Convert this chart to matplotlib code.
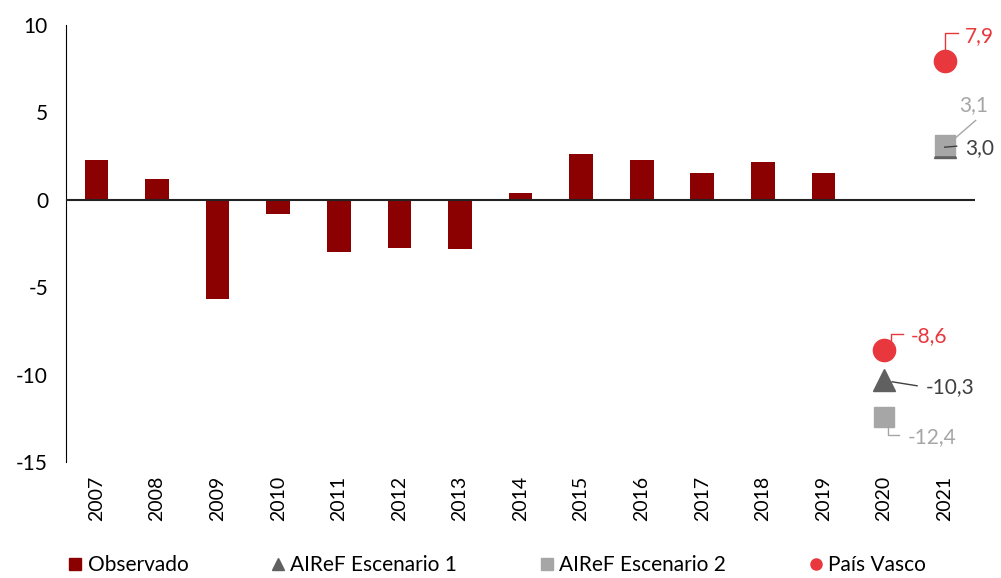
import matplotlib.pyplot as plt
import numpy as np
from matplotlib.lines import Line2D
from matplotlib.transforms import IdentityTransform

plt.rcParams['font.family'] = ['Lato', 'DejaVu Sans']

# Data
years = ['2007', '2008', '2009', '2010', '2011', '2012', '2013', '2014',
         '2015', '2016', '2017', '2018', '2019', '2020', '2021']
observado = [2.25, 1.2, -5.7, -0.8, -3.0, -2.75, -2.85, 0.37,
             2.6, 2.25, 1.55, 2.15, 1.55]
airef1 = {'2020': -10.3, '2021': 3.0}
airef2 = {'2020': -12.4, '2021': 3.1}
pais_vasco = {'2020': -8.6, '2021': 7.9}

c_bar = '#8B0000'
c_red = '#E8383D'
c_dark = '#606060'
c_dark_txt = '#404040'
c_light = '#A6A6A6'

fig = plt.figure(figsize=(10.01, 5.78), dpi=100)
ax = fig.add_axes([0.066, 0.2007, 0.908, 0.7565])

x = np.arange(len(years))
ax.bar(x[:len(observado)], observado, width=0.39, color=c_bar, zorder=2)

xi = {y: i for i, y in enumerate(years)}
for yr in ['2020', '2021']:
    ax.plot(xi[yr], airef1[yr], marker='^', ms=16, color=c_dark, ls='none', zorder=3)
    ax.plot(xi[yr], airef2[yr], marker='s', ms=14, color=c_light, ls='none', zorder=4)
    ax.plot(xi[yr], pais_vasco[yr], marker='o', ms=16, color=c_red, ls='none', zorder=5)

ax.set_xlim(-0.5, len(years) - 0.5)
ax.set_ylim(-15, 10)
ax.set_yticks([10, 5, 0, -5, -10, -15])
ax.set_yticklabels(['10', '5', '0', '-5', '-10', '-15'])
ax.tick_params(axis='y', length=0, pad=13, labelsize=15)
ax.set_xticks(x)
ax.set_xticklabels(years, rotation=90)
ax.tick_params(axis='x', length=0, pad=10, labelsize=14)

for s in ['top', 'right', 'bottom']:
    ax.spines[s].set_visible(False)
ax.spines['left'].set_color('black')
ax.axhline(0, color='#222222', lw=1.5, zorder=3)

fig.canvas.draw()


def label(yr, val, text, color, line_pts, text_off, ha='left'):
    px, py = ax.transData.transform((xi[yr], val))
    xs = [px + p[0] for p in line_pts]
    ys = [py + p[1] for p in line_pts]
    fig.add_artist(Line2D(xs, ys, transform=IdentityTransform(), color=color, lw=1))
    ax.annotate(text, xy=(xi[yr], val), xytext=text_off, textcoords='offset pixels',
                ha=ha, va='center', color=color, fontsize=15)


label('2021', pais_vasco['2021'], '7,9', c_red, [(0, 10), (0, 28), (13, 28)], (20, 25))
label('2021', airef2['2021'], '3,1', c_light, [(9, 6), (31, 25)], (29, 40), ha='center')
label('2021', airef1['2021'], '3,0', c_dark_txt, [(0, 0), (12, 1)], (20, -1))
label('2020', pais_vasco['2020'], '-8,6', c_red, [(7, 9), (7, 16), (19, 16)], (27, 14))
label('2020', airef1['2020'], '-10,3', c_dark_txt, [(8, -2), (33, -6)], (42, -7))
label('2020', airef2['2020'], '-12,4', c_light, [(4, -10), (4, -18), (15, -18)], (24, -21))

handles = [
    Line2D([], [], marker='s', ls='none', color=c_bar, ms=8),
    Line2D([], [], marker='^', ls='none', color=c_dark, ms=8),
    Line2D([], [], marker='s', ls='none', color=c_light, ms=8),
    Line2D([], [], marker='o', ls='none', color=c_red, ms=8),
]
fig.legend(handles, ['Observado', 'AIReF Escenario 1', 'AIReF Escenario 2', 'País Vasco'],
           loc='center', bbox_to_anchor=(0.497, 1 - 565 / 578), ncol=4, frameon=False,
           fontsize=15, handlelength=0.6, handletextpad=0.3, columnspacing=4.0,
           borderpad=0.1)

fig.savefig('out.png', dpi=100)
